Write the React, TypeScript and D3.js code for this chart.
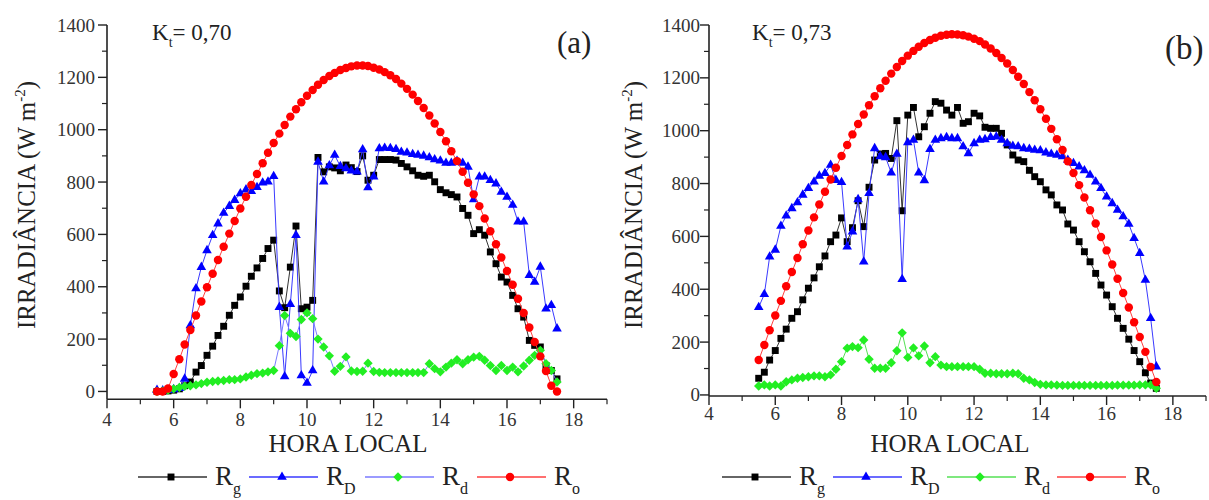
import React from 'react';
import * as d3 from 'd3';

// hora local (10 min)
const hours = [5.5, 5.67, 5.83, 6, 6.17, 6.33, 6.5, 6.67, 6.83, 7, 7.17, 7.33, 7.5, 7.67, 7.83, 8, 8.17, 8.33, 8.5, 8.67, 8.83, 9, 9.17, 9.33, 9.5, 9.67, 9.83, 10, 10.17, 10.33, 10.5, 10.67, 10.83, 11, 11.17, 11.33, 11.5, 11.67, 11.83, 12, 12.17, 12.33, 12.5, 12.67, 12.83, 13, 13.17, 13.33, 13.5, 13.67, 13.83, 14, 14.17, 14.33, 14.5, 14.67, 14.83, 15, 15.17, 15.33, 15.5, 15.67, 15.83, 16, 16.17, 16.33, 16.5, 16.67, 16.83, 17, 17.17, 17.33, 17.5];

// panel (a), Kt = 0,70
const rgA = [0, 0, 2, 5, 10, 22, 36, 74, 99, 138, 173, 214, 249, 291, 329, 361, 402, 440, 472, 508, 546, 578, 384, 320, 475, 632, 316, 322, 348, 894, 839, 858, 854, 843, 865, 855, 840, 900, 807, 826, 886, 886, 886, 884, 871, 858, 843, 826, 822, 826, 801, 771, 759, 752, 743, 699, 673, 603, 618, 597, 533, 488, 437, 418, 367, 316, 284, 195, 176, 170, 99, 80, 48];
const rDirA = [5, 3, 5, 8, 12, 48, 252, 393, 475, 539, 597, 641, 682, 708, 731, 756, 771, 765, 780, 797, 801, 822, 322, 57, 333, 597, 61, 32, 80, 877, 801, 863, 903, 860, 852, 843, 839, 924, 779, 820, 928, 930, 929, 925, 915, 912, 906, 903, 900, 894, 886, 881, 873, 873, 880, 873, 858, 733, 820, 820, 807, 794, 762, 743, 712, 648, 648, 444, 418, 476, 316, 329, 240];
const rdA = [0, 2, 5, 10, 15, 20, 22, 25, 30, 35, 38, 40, 42, 45, 45, 48, 55, 62, 68, 70, 75, 80, 175, 290, 222, 210, 275, 300, 278, 200, 170, 136, 77, 96, 132, 78, 76, 77, 108, 76, 73, 72, 72, 72, 72, 72, 72, 72, 72, 106, 87, 75, 93, 108, 121, 106, 121, 131, 134, 119, 99, 80, 99, 80, 93, 75, 97, 119, 138, 157, 106, 80, 36];
const roA = [0, 0, 11, 67, 123, 179, 235, 290, 344, 398, 450, 502, 553, 603, 651, 699, 744, 789, 831, 872, 912, 949, 985, 1018, 1050, 1078, 1105, 1130, 1152, 1172, 1190, 1205, 1217, 1228, 1236, 1242, 1245, 1245, 1243, 1237, 1230, 1220, 1208, 1194, 1176, 1156, 1134, 1110, 1083, 1054, 1024, 991, 956, 918, 880, 839, 797, 753, 708, 661, 612, 562, 512, 460, 408, 354, 300, 244, 189, 134, 78, 22, 0];

// panel (b), Kt = 0,73
const rgB = [63, 86, 132, 168, 214, 249, 290, 315, 360, 404, 443, 485, 526, 580, 605, 670, 580, 633, 735, 637, 786, 889, 912, 914, 895, 1038, 697, 1059, 1088, 977, 1015, 1066, 1110, 1104, 1078, 1059, 1088, 1028, 1034, 1066, 1056, 1013, 1009, 1009, 990, 946, 908, 889, 883, 850, 826, 807, 776, 757, 719, 700, 647, 624, 580, 542, 504, 460, 416, 378, 334, 290, 252, 211, 168, 126, 84, 45, 25];
const rDirB = [332, 381, 523, 549, 639, 678, 706, 728, 757, 782, 807, 829, 839, 870, 813, 805, 561, 618, 740, 504, 763, 933, 902, 899, 841, 912, 438, 955, 965, 841, 812, 930, 965, 971, 975, 971, 971, 940, 914, 952, 965, 967, 975, 977, 965, 952, 942, 940, 933, 931, 927, 925, 917, 912, 908, 902, 889, 877, 864, 849, 832, 807, 782, 750, 725, 700, 675, 647, 593, 536, 435, 290, 107];
const rdB = [34, 38, 34, 38, 34, 50, 57, 63, 66, 69, 72, 72, 69, 76, 97, 126, 177, 183, 179, 208, 135, 101, 101, 101, 122, 167, 235, 142, 178, 148, 185, 122, 145, 113, 107, 107, 107, 107, 107, 107, 97, 82, 82, 80, 80, 80, 82, 80, 63, 57, 47, 40, 38, 38, 37, 36, 36, 36, 36, 36, 36, 36, 36, 36, 36, 37, 37, 37, 37, 38, 38, 38, 25];
const roB = [132, 189, 245, 301, 356, 411, 465, 518, 570, 622, 672, 721, 769, 815, 860, 904, 946, 986, 1025, 1061, 1096, 1130, 1161, 1189, 1216, 1241, 1264, 1284, 1302, 1318, 1332, 1343, 1352, 1359, 1363, 1365, 1364, 1361, 1356, 1348, 1339, 1326, 1311, 1294, 1275, 1254, 1230, 1204, 1177, 1146, 1115, 1081, 1045, 1007, 968, 927, 884, 840, 794, 747, 699, 649, 598, 547, 494, 440, 386, 331, 275, 219, 163, 106, 49];

const yTicks = [0, 200, 400, 600, 800, 1000, 1200, 1400];
const yMinor = [100, 300, 500, 700, 900, 1100, 1300];
const xTicks = [4, 6, 8, 10, 12, 14, 16, 18];
const xMinor = [5, 7, 9, 11, 13, 15, 17, 19];
const seriesNames = ['g', 'D', 'd', 'o'];

const FONT = 'Liberation Serif, Times New Roman, DejaVu Serif, serif';

const square = d3.symbol(d3.symbolSquare, 48)()!;
const triangle = d3.symbol(d3.symbolTriangle, 40)()!;
const diamond = d3.symbol(d3.symbolSquare, 44)()!;
const circle = d3.symbol(d3.symbolCircle, 56)()!;

type Serie = { sub: string; values: number[]; line: string; fill: string; shape: string; rot: number };

type PanelCfg = {
  x0: number; x1: number; yTop: number; yBottom: number; yMin: number;
  labelGap: number; xLabelDy: number;
  kt: string; ktX: number; tag: string; tagX: number; tagY: number; tagSize: number;
  titleX: number; xTitleX: number; legendX: number[];
  series: Serie[];
};

function Panel({ c }: { c: PanelCfg }) {
  const x = d3.scaleLinear().domain([4, 19]).range([c.x0, c.x1]);
  const y = d3.scaleLinear().domain([c.yMin, 1400]).range([c.yBottom, c.yTop]);
  const line = d3.line<number>().x((d, i) => x(hours[i])).y(d => y(d));
  const axisY = c.yBottom;
  const ts = { fontFamily: FONT };

  return (
    <g style={ts}>
      {c.series.map((s, si) => (
        <g key={si}>
          <path d={line(s.values) || ''} fill="none" stroke={s.line} strokeWidth={1} />
          {s.values.map((v, i) => (
            <path key={i} d={s.shape} fill={s.fill}
              transform={`translate(${x(hours[i])},${y(v)}) rotate(${s.rot})`} />
          ))}
        </g>
      ))}

      {/* axes */}
      <line x1={c.x0} x2={c.x0} y1={c.yTop} y2={axisY} stroke="#222" strokeWidth={1.6} />
      <line x1={c.x0} x2={c.x1} y1={axisY} y2={axisY} stroke="#222" strokeWidth={1.6} />
      {yTicks.map(t => (
        <g key={t}>
          <line x1={c.x0 - 9} x2={c.x0} y1={y(t)} y2={y(t)} stroke="#222" strokeWidth={1.4} />
          <text style={ts} x={c.x0 - c.labelGap} y={y(t) + 6.5} textAnchor="end" fontSize={19} fill="#333">{t}</text>
        </g>
      ))}
      {yMinor.map(t => (
        <line key={t} x1={c.x0 - 5} x2={c.x0} y1={y(t)} y2={y(t)} stroke="#222" strokeWidth={1.2} />
      ))}
      {xTicks.map(t => (
        <g key={t}>
          <line x1={x(t)} x2={x(t)} y1={axisY} y2={axisY + 9} stroke="#222" strokeWidth={1.4} />
          <text style={ts} x={x(t)} y={axisY + c.xLabelDy} textAnchor="middle" fontSize={19} fill="#333">{t}</text>
        </g>
      ))}
      {xMinor.map(t => (
        <line key={t} x1={x(t)} x2={x(t)} y1={axisY} y2={axisY + 5} stroke="#222" strokeWidth={1.2} />
      ))}

      {/* titles */}
      <text style={ts} x={c.xTitleX} y={452} textAnchor="middle" fontSize={25} fill="#222">HORA LOCAL</text>
      <text style={ts} transform={`translate(${c.titleX},205) rotate(-90)`} textAnchor="middle" fontSize={25} fill="#222">
        IRRADIÂNCIA (W m<tspan fontSize={15} dy={-10}>-2</tspan><tspan dy={10}>)</tspan>
      </text>
      <text style={ts} x={c.ktX} y={40} fontSize={23} fill="#222">
        K<tspan fontSize={14} dy={7}>t</tspan><tspan dy={-7}>= {c.kt}</tspan>
      </text>
      <text style={ts} x={c.tagX} y={c.tagY} fontSize={c.tagSize} fill="#222">{c.tag}</text>

      {/* legend */}
      {c.series.map((s, si) => {
        const lx = c.legendX[si];
        return (
          <g key={si}>
            <line x1={lx} x2={lx + 69} y1={477} y2={477} stroke={s.line} strokeWidth={1.3} />
            <path d={s.shape} fill={s.fill} transform={`translate(${lx + 33},477) rotate(${s.rot})`} />
            <text style={ts} x={lx + 77} y={485} fontSize={27} fill="#222">
              R<tspan fontSize={16} dy={9}>{seriesNames[si]}</tspan>
            </text>
          </g>
        );
      })}
    </g>
  );
}

const panelA: PanelCfg = {
  x0: 107, x1: 607, yTop: 25, yBottom: 399.3, yMin: -30, labelGap: 12, xLabelDy: 27,
  kt: '0,70', ktX: 152, tag: '(a)', tagX: 557, tagY: 53, tagSize: 31,
  titleX: 35, xTitleX: 348, legendX: [138, 249, 365, 477],
  series: [
    { sub: 'g', values: rgA, line: '#333', fill: '#000', shape: square, rot: 0 },
    { sub: 'D', values: rDirA, line: '#3a3aff', fill: '#0000ff', shape: triangle, rot: 0 },
    { sub: 'd', values: rdA, line: '#7a7aff', fill: '#22ee22', shape: diamond, rot: 45 },
    { sub: 'o', values: roA, line: '#ff4040', fill: '#ff0000', shape: circle, rot: 0 },
  ],
};

const panelB: PanelCfg = {
  x0: 709, x1: 1206, yTop: 25, yBottom: 396, yMin: -4, labelGap: 9, xLabelDy: 24,
  kt: '0,73', ktX: 752, tag: '(b)', tagX: 1165, tagY: 59, tagSize: 33,
  titleX: 642, xTitleX: 950, legendX: [722, 833, 947, 1057],
  series: [
    { sub: 'g', values: rgB, line: '#333', fill: '#000', shape: square, rot: 0 },
    { sub: 'D', values: rDirB, line: '#3a3aff', fill: '#0000ff', shape: triangle, rot: 0 },
    { sub: 'd', values: rdB, line: '#55e055', fill: '#22ee22', shape: diamond, rot: 45 },
    { sub: 'o', values: roB, line: '#ff4040', fill: '#ff0000', shape: circle, rot: 0 },
  ],
};

export default function App() {
  return (
    <div style={{ position: 'absolute', left: 0, top: 0 }}>
      <svg width={1209} height={500} style={{ display: 'block', background: '#fff', fontFamily: FONT }}>
        <rect width={1209} height={500} fill="#fff" />
        <Panel c={panelA} />
        <Panel c={panelB} />
      </svg>
    </div>
  );
}
